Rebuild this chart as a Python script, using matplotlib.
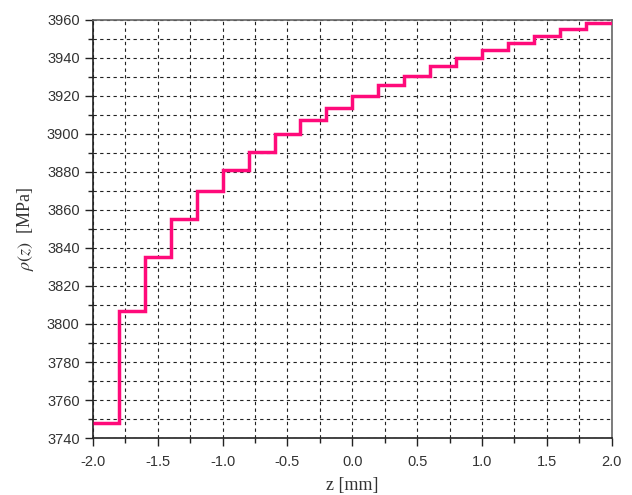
import numpy as np
import matplotlib
matplotlib.use("Agg")
import matplotlib.pyplot as plt
from matplotlib.ticker import MultipleLocator

# step edges along z [mm] and stress level on each step [MPa]
z_edges = [-2.0, -1.8, -1.6, -1.4, -1.2, -1.0, -0.8, -0.6, -0.4, -0.2, 0.0,
           0.2, 0.4, 0.6, 0.8, 1.0, 1.2, 1.4, 1.6, 1.8, 2.0]
rho = [3748, 3807, 3835, 3855, 3870, 3881, 3890.5, 3900, 3907.5, 3913.5,
       3920, 3925.5, 3930.5, 3935.5, 3940, 3944, 3948, 3951.5, 3955, 3958.5]

plt.rcParams['mathtext.fontset'] = 'stix'

fig = plt.figure(figsize=(6.32, 4.95), dpi=100)
ax = fig.add_axes([0.147, 0.115, 0.821, 0.845])

ax.stairs(rho, z_edges, baseline=None, color='#ff0a7a', lw=2.5, zorder=3)

ax.set_xlim(-2.0, 2.0)
ax.set_ylim(3740, 3960)
ax.xaxis.set_major_locator(MultipleLocator(0.5))
ax.xaxis.set_minor_locator(MultipleLocator(0.25))
ax.yaxis.set_major_locator(MultipleLocator(20))
ax.yaxis.set_minor_locator(MultipleLocator(10))
ax.xaxis.set_major_formatter(matplotlib.ticker.FormatStrFormatter('%.1f'))

ax.grid(True, which='both', color='#222222', lw=0.8, ls=(0, (3, 3)))
ax.set_axisbelow(True)

ax.tick_params(which='major', direction='out', length=6, width=1.0,
               labelsize=10.5, labelcolor='#333333', colors='#222222',
               labelfontfamily='Liberation Sans')
ax.tick_params(which='minor', direction='out', length=3.5, width=1.0,
               colors='#222222')
ax.tick_params(axis='x', pad=6)
for s in ['left', 'bottom']:
    ax.spines[s].set_color('#222222')
    ax.spines[s].set_linewidth(1.2)
for s in ['top', 'right']:
    ax.spines[s].set_color('#666666')
    ax.spines[s].set_linewidth(1.2)

ax.set_xlabel('z [mm]', family='Liberation Serif', fontsize=13,
              color='#333333', labelpad=6)
ax.set_ylabel(r'$\rho(z)$  [MPa]', family='Liberation Serif', fontsize=13,
              color='#333333', labelpad=8)

fig.savefig('out.png', dpi=100)
